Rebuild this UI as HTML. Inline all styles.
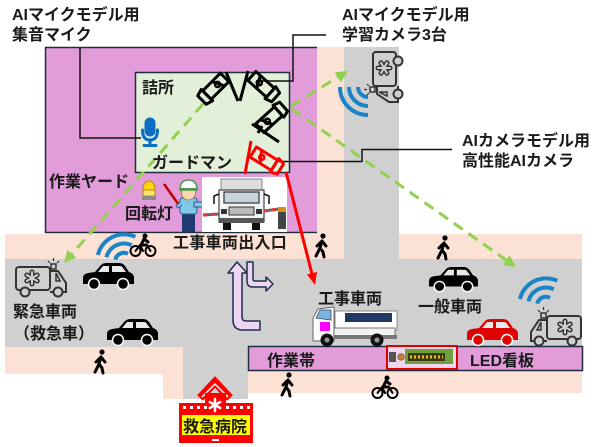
<!DOCTYPE html>
<html><head><meta charset="utf-8">
<style>
html,body{margin:0;padding:0;background:#fff;}
svg{display:block;}
text{font-family:"Liberation Sans","Noto Sans CJK JP",sans-serif;font-weight:bold;font-size:16px;fill:#1a1a1a;}
</style></head><body>
<svg width="600" height="447" viewBox="0 0 600 447" xmlns="http://www.w3.org/2000/svg">
<defs>
  <g id="amb">
    <rect x="16" y="267" width="34" height="23" rx="3" fill="none" stroke="#333" stroke-width="2"/>
    <path d="M50,271 H58 L66,283 V292 H50" fill="none" stroke="#333" stroke-width="2"/>
    <path d="M56,273 L60,281 H56 Z" fill="none" stroke="#333" stroke-width="1.5"/>
    <circle cx="25" cy="292" r="4.5" fill="#d0d0d0" stroke="#333" stroke-width="2"/>
    <circle cx="58" cy="292" r="4.5" fill="#d0d0d0" stroke="#333" stroke-width="2"/>
    <rect x="51" y="264" width="5" height="5" fill="none" stroke="#333" stroke-width="1.5"/>
    <path d="M53.5,258 V261 M48,261 L50,263 M59,261 L57,263" stroke="#333" stroke-width="1.2"/>
    <g stroke-linecap="round">
      <path d="M32,272 V284 M26.8,275 L37.2,281 M26.8,281 L37.2,275" stroke="#333" stroke-width="5"/>
      <path d="M32,272 V284 M26.8,275 L37.2,281 M26.8,281 L37.2,275" stroke="#d0d0d0" stroke-width="2"/>
    </g>
  </g>
  <g id="car">
    <path d="M1,21 L1,15 Q1,11 6,10 L13,9 L19,2 Q21,0 25,0 L37,0 Q41,0 43,3 L47,9 Q51,10 52,14 L52,21 Z"/>
    <path d="M16,9 L21,3 L27,3 L27,9 Z M30,3 L38,3 Q40,3 41,5 L44,9 L30,9 Z" fill="#e8e8e8"/>
    <circle cx="12" cy="21" r="5.5" stroke="#fff" stroke-width="1.5"/>
    <circle cx="41" cy="21" r="5.5" stroke="#fff" stroke-width="1.5"/>
  </g>
  <g id="ped" fill="none" stroke="#000" stroke-width="3" stroke-linecap="round" stroke-linejoin="round">
    <circle cx="10" cy="3" r="2.6" fill="#000" stroke="none"/>
    <path d="M9,8 L7,15 L3,23 M7,15 L10,19 L11,24 M9,8 L4,13 M9,8 L13,13"/>
  </g>
  <g id="bike" fill="none" stroke="#000" stroke-linecap="round" stroke-linejoin="round">
    <circle cx="5.5" cy="11" r="5" stroke-width="2"/>
    <circle cx="20.5" cy="11" r="5" stroke-width="2"/>
    <path d="M5.5,11 L10,5 L17,5 L20.5,11 M10,5 L13,11" stroke-width="2"/>
    <circle cx="15" cy="-4" r="2.5" fill="#000" stroke="none"/>
    <path d="M14,-1 L11,5 L16,5 M14,-1 L18,2" stroke-width="3"/>
  </g>
  <g id="cam" fill="none" stroke-width="3" stroke-linejoin="round">
    <rect x="-15" y="-6" width="25" height="12"/>
    <path d="M10,-8 L17,-6 L17,6 L10,8 Z"/>
    <circle cx="-5" cy="0" r="2.6" stroke-width="2.4"/>
    <path d="M-9,-6 L-3,6"/>
  </g>
</defs>

<!-- roads / sidewalks -->
<rect x="5" y="234" width="577" height="25" fill="#fbe2d5"/>
<rect x="317" y="47" width="27" height="212" fill="#fbe2d5"/>
<rect x="344" y="47" width="55" height="212" fill="#d0d0d0"/>
<rect x="5" y="259" width="577" height="88" fill="#d0d0d0"/>
<rect x="5" y="347" width="178" height="27" fill="#fbe2d5"/>
<rect x="163" y="347" width="20" height="52" fill="#fbe2d5"/>
<rect x="183" y="346" width="65" height="53" fill="#d0d0d0"/>
<rect x="248" y="370" width="334" height="23" fill="#fbe2d5"/>
<rect x="248.5" y="346.5" width="334" height="24" fill="#e29cd9" stroke="#1f2d3d" stroke-width="1.5"/>

<!-- work yard -->
<rect x="45" y="47" width="272" height="186" fill="#e29cd9"/>
<path d="M317,47.5 H45.5 V232.5 H317" fill="none" stroke="#1f2d3d" stroke-width="1.5"/>

<!-- booth -->
<rect x="135.5" y="72.5" width="154" height="100" fill="#e2f0d9" stroke="#1f2d3d" stroke-width="1.5"/>

<!-- connector lines -->
<g fill="none" stroke="#111" stroke-width="1.5">
  <polyline points="80,48 80,138 141,138"/>
  <polyline points="326,35 293,35 293,81 256,81"/>
  <polyline points="452,149.5 362,149.5 362,161.5 278,161.5"/>
</g>

<!-- cameras -->
<g stroke="#000">
  <use href="#cam" transform="translate(214,88) rotate(135)"/>
  <line x1="226" y1="72" x2="238" y2="101" stroke-width="3"/>
  <use href="#cam" transform="translate(263,86) rotate(42)"/>
  <line x1="248" y1="71" x2="240" y2="101" stroke-width="3"/>
  <use href="#cam" transform="translate(271,118) rotate(-42)"/>
  <line x1="252" y1="124" x2="279" y2="142" stroke-width="3"/>
  <line x1="262" y1="126" x2="258" y2="133" stroke-width="3"/>
</g>
<g stroke="#ff0000">
  <use href="#cam" transform="translate(266,160) rotate(32)"/>
  <line x1="251" y1="141" x2="245" y2="174" stroke-width="3"/>
</g>

<!-- mic -->
<g fill="none" stroke="#0a6fc2" stroke-width="3" stroke-linecap="round">
  <rect x="146" y="119" width="8" height="16" rx="4" fill="#0a6fc2"/>
  <path d="M142.5,130 Q142.5,140 150,140 Q157.5,140 157.5,130"/>
  <path d="M150,140 V145 M144,145.5 H156"/>
</g>

<!-- rotating light -->
<path d="M143,191 Q143,181 149,181 Q155,181 155,191 Z" fill="#ffd21a" stroke="#b08a00" stroke-width="1"/>
<rect x="143" y="190" width="12" height="6" fill="#ffe66a" stroke="#b08a00" stroke-width="1"/>
<rect x="142" y="196" width="14" height="4" fill="#8a8a8a"/>

<!-- guard man -->
<line x1="164" y1="184" x2="179" y2="205" stroke="#c00000" stroke-width="2.5"/>
<rect x="182" y="212" width="13" height="20" fill="#1f3a70"/>
<rect x="180" y="198" width="17" height="16" rx="2" fill="#7fc8e8" stroke="#2a5c90" stroke-width="1"/>
<rect x="194" y="202" width="11" height="5" fill="#7fc8e8" stroke="#2a5c90" stroke-width="1"/>
<path d="M180,202 L176,206 L178,208 L182,205" fill="#7fc8e8" stroke="#2a5c90" stroke-width="1"/>
<circle cx="188.5" cy="193" r="7" fill="#f9d6b0" stroke="#a07050" stroke-width="0.8"/>
<path d="M180,190 Q180,180 188.5,180 Q197,180 197,190 Z" fill="#fff" stroke="#4a9a4a" stroke-width="1.5"/>
<rect x="180" y="188" width="17" height="2.5" fill="#4a9a4a"/>

<!-- gate truck photo -->
<rect x="202" y="177" width="85" height="55" fill="#fff"/>
<rect x="221" y="179" width="41" height="11" fill="#dcdcdc" stroke="#888" stroke-width="1"/>
<rect x="219" y="190" width="45" height="32" fill="#f4f4f4" stroke="#444" stroke-width="1.2"/>
<rect x="224" y="192" width="35" height="11" fill="#c8d4dc" stroke="#333" stroke-width="1.2"/>
<rect x="229" y="207" width="25" height="8" fill="#bbb" stroke="#333" stroke-width="1"/>
<rect x="221" y="209" width="6" height="5" fill="#333"/>
<rect x="256" y="209" width="6" height="5" fill="#333"/>
<rect x="219" y="218" width="45" height="5" fill="#555"/>
<rect x="223" y="223" width="8" height="7" fill="#111"/>
<rect x="252" y="223" width="8" height="7" fill="#111"/>
<path d="M219,194 L214,196 L214,204 M264,194 L269,196 L269,204" fill="none" stroke="#111" stroke-width="1.5"/>
<line x1="203" y1="215" x2="219" y2="214" stroke="#666" stroke-width="3"/>
<line x1="203" y1="215" x2="219" y2="214" stroke="#e33" stroke-width="3" stroke-dasharray="4 4"/>
<line x1="264" y1="211" x2="279" y2="209" stroke="#666" stroke-width="3"/>
<line x1="264" y1="211" x2="279" y2="209" stroke="#e33" stroke-width="3" stroke-dasharray="4 4"/>
<rect x="278" y="207" width="8" height="22" fill="#444"/>
<rect x="278" y="207" width="8" height="5" fill="#e08a20"/>

<!-- U-turn arrows -->
<g fill="#ecd6f2" stroke="#1f2d50" stroke-width="1.5" stroke-linejoin="round">
  <path d="M237,262 L247,273 L242,273 L242,317 Q242,321 246,321 L260,321 L260,330 L243,330 Q233,330 233,320 L233,273 L228,273 Z"/>
  <path d="M247,262 L253,262 L253,279 Q253,281 255,281 L266,281 L266,277 L273,284 L266,291 L266,287 L253,287 Q247,287 247,281 Z"/>
</g>

<!-- ambulances -->
<use href="#amb"/>
<use href="#amb" transform="translate(597,49) scale(-1,1)"/>
<use href="#amb" transform="matrix(0,1,1,0,106,36)"/>

<!-- wifi -->
<g fill="none" stroke="#1b84c6" stroke-width="4">
  <path d="M115.2,259.6 A9,9 0 0 1 128,253.8"/>
  <path d="M106.5,257.3 A18,18 0 0 1 131.7,245.3"/>
  <path d="M97.9,255 A27,27 0 0 1 135.4,236.8"/>
  <path d="M368,97 A10,10 0 0 1 358,87"/>
  <path d="M368,106 A19,19 0 0 1 349,87"/>
  <path d="M368,115 A28,28 0 0 1 340,87"/>
  <path d="M537.2,303.6 A9,9 0 0 1 550,297.8"/>
  <path d="M528.5,301.3 A18,18 0 0 1 553.7,289.3"/>
  <path d="M519.9,299 A27,27 0 0 1 557.4,280.8"/>
</g>

<!-- cars -->
<use href="#car" fill="#000" transform="translate(82,263)"/>
<use href="#car" fill="#000" transform="translate(106,319)"/>
<use href="#car" fill="#000" transform="translate(428,267) scale(0.96,0.93)"/>
<use href="#car" fill="#e00000" transform="translate(466,319)"/>

<!-- bikes & pedestrians -->
<use href="#bike" transform="translate(130,240)"/>
<use href="#bike" transform="translate(372,382)"/>
<use href="#ped" transform="translate(313,233)"/>
<use href="#ped" transform="translate(435,235)"/>
<use href="#ped" transform="translate(92,349)"/>
<use href="#ped" transform="translate(279,372)"/>

<!-- construction truck -->
<rect x="335" y="311" width="62" height="19" fill="#fff" stroke="#888" stroke-width="1"/>
<rect x="345" y="313" width="47" height="9" fill="#1f3864"/>
<rect x="333" y="328" width="62" height="8" fill="#f2f2f2" stroke="#777" stroke-width="1"/>
<rect x="313" y="335" width="84" height="4" fill="#777"/>
<path d="M313,341 L313,318 L318,309 L334,307 L334,341 Z" fill="#fff" stroke="#666" stroke-width="1"/>
<path d="M316,318 L320,310 L331,310 L331,320 Z" fill="#7ab6e0" stroke="#446" stroke-width="0.8"/>
<rect x="320" y="322" width="10" height="9" fill="#ff00ff"/>
<circle cx="327" cy="340" r="6.5" fill="#111"/>
<circle cx="327" cy="340" r="2.5" fill="#999"/>
<circle cx="377" cy="340" r="6.5" fill="#111"/>
<circle cx="377" cy="340" r="2.5" fill="#999"/>

<!-- LED sign -->
<rect x="387" y="346" width="70" height="23" fill="#f0d6ee" stroke="#e00000" stroke-width="2"/>
<rect x="389" y="352" width="7" height="10" fill="#555"/>
<circle cx="401" cy="357" r="3.2" fill="#d9802a" stroke="#555" stroke-width="0.8"/>
<rect x="405" y="349" width="48" height="15" fill="#6fa040"/>
<rect x="408" y="353" width="37" height="8" fill="#3a3a18"/>
<line x1="410" y1="357" x2="443" y2="357" stroke="#f0c020" stroke-width="3" stroke-dasharray="2 2"/>

<!-- hospital -->
<path d="M200,398 L215,382 L230,398" fill="none" stroke="#ff0000" stroke-width="8"/>
<path d="M202,397 L215,384 L228,397" fill="none" stroke="#fff" stroke-width="1.5"/>
<rect x="205" y="393" width="21" height="11" fill="#ff0000"/>
<rect x="179" y="403" width="74" height="40" fill="#ff0000"/>
<g fill="#fff">
  <rect x="183" y="406" width="3" height="3"/><rect x="190" y="406" width="3" height="3"/>
  <rect x="197" y="406" width="3" height="3"/><rect x="204" y="406" width="3" height="3"/>
  <rect x="226" y="406" width="3" height="3"/><rect x="233" y="406" width="3" height="3"/>
  <rect x="240" y="406" width="3" height="3"/><rect x="247" y="406" width="3" height="3"/>
  <rect x="212" y="439" width="7" height="2"/>
</g>
<path d="M215,399 V411 M209.8,402 L220.2,408 M209.8,408 L220.2,402" stroke="#fff" stroke-width="2.5" stroke-linecap="round"/>
<rect x="182" y="415" width="68" height="20" fill="#ffff00"/>

<!-- green dashed arrows -->
<g fill="none" stroke="#92d050" stroke-width="3" stroke-dasharray="11 7">
  <line x1="203" y1="104" x2="72" y2="254"/>
  <line x1="291" y1="106" x2="338" y2="77"/>
  <line x1="292" y1="109" x2="506" y2="260"/>
</g>
<g fill="#92d050">
  <polygon points="64,263 76.4,257.8 67.4,250"/>
  <polygon points="348,71 340.9,82.4 334.7,72.2"/>
  <polygon points="516,267 502.7,265 509.7,255.2"/>
</g>

<!-- red arrow -->
<line x1="286" y1="172" x2="312" y2="274" stroke="#ff0000" stroke-width="3"/>
<polygon points="315,285 317,272 307,274.5" fill="#ff0000"/>

<!-- texts -->
<text x="12" y="20">AIマイクモデル用</text>
<text x="12" y="40">集音マイク</text>
<text x="342" y="20">AIマイクモデル用</text>
<text x="342" y="40">学習カメラ3台</text>
<text x="462" y="146">AIカメラモデル用</text>
<text x="462" y="166">高性能AIカメラ</text>
<text x="142" y="93">詰所</text>
<text x="152" y="168">ガードマン</text>
<text x="49" y="187">作業ヤード</text>
<text x="125" y="219">回転灯</text>
<text x="173" y="248" letter-spacing="0.3">工事車両出入口</text>
<text x="13" y="317">緊急車両</text>
<text x="14" y="339">（救急車）</text>
<text x="318" y="304">工事車両</text>
<text x="418" y="312">一般車両</text>
<text x="267" y="366">作業帯</text>
<text x="470" y="366">LED看板</text>
<text x="183" y="432">救急病院</text>
</svg>
</body></html>
